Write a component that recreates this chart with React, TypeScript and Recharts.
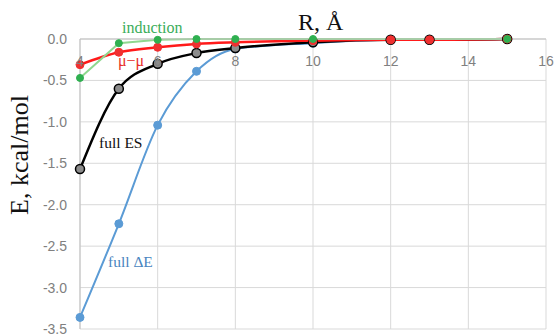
import React from "react";
import { LineChart, Line, XAxis, YAxis, CartesianGrid, Customized } from "recharts";

const rValues = [4, 5, 6, 7, 8, 10, 12, 13, 15];
const fullDE = [-3.36, -2.23, -1.04, -0.39, -0.12, -0.05, -0.01, -0.01, 0];
const fullES = [-1.57, -0.6, -0.3, -0.17, -0.11, -0.04, -0.01, -0.01, 0];
const muMu = [-0.31, -0.16, -0.1, -0.06, -0.04, -0.02, -0.01, -0.01, 0];
const inductionR = [4, 5, 6, 7, 8, 10, 15];
const induction = [-0.47, -0.05, -0.01, 0, 0, 0, 0];

const xTicks = [4, 6, 8, 10, 12, 14, 16];
const yTicks = [0, -0.5, -1, -1.5, -2, -2.5, -3, -3.5];

const toPts = (xs: number[], ys: number[]) => xs.map((x, i) => ({ x, y: ys[i] }));
const deData = toPts(rValues, fullDE);
const esData = toPts(rValues, fullES);
const muData = toPts(rValues, muMu);
const indData = toPts(inductionR, induction);

const tickFont = "Liberation Sans, Arial, sans-serif";
const serif = "Liberation Serif, Times New Roman, serif";

const renderXTick = (props: any) => (
  <text x={props.x} y={66} textAnchor="middle" fill="#808080" fontSize={14} fontFamily={tickFont}>
    {props.payload.value}
  </text>
);

const Labels = () => (
  <g>
    <text x={122} y={33} fontSize={16} fill="#3aad5a" fontFamily={serif} style={{ fontFamily: serif }}>induction</text>
    <text x={118} y={66} fontSize={16} fill="#e8302a" fontFamily={serif} style={{ fontFamily: serif }}>μ−μ</text>
    <text x={99} y={148} fontSize={15.5} fill="#111" fontFamily={serif} style={{ fontFamily: serif }}>full ES</text>
    <text x={108} y={267} fontSize={15.5} fill="#4a86c0" fontFamily={serif} style={{ fontFamily: serif }}>full ΔE</text>
    <text x={298} y={30} fontSize={24} fill="#111" fontFamily={serif} style={{ fontFamily: serif }}>R, Å</text>
    <text x={28} y={155} fontSize={26} fill="#111" textAnchor="middle" fontFamily={serif} style={{ fontFamily: serif }} transform="rotate(-90 28 155)">E, kcal/mol</text>
  </g>
);

export default function App() {
  return (
    <div style={{ position: "absolute", left: 0, top: 0, background: "#fff" }}>
      <LineChart width={557} height={335} margin={{ top: 19, right: 11, bottom: 6, left: 0 }}>
        <CartesianGrid stroke="#d9d9d9" strokeWidth={1} />
        <XAxis
          type="number"
          dataKey="x"
          orientation="top"
          height={20}
          domain={[4, 16]}
          ticks={xTicks}
          axisLine={{ stroke: "#c0c0c0" }}
          tickLine={false}
          tick={renderXTick}
          interval={0}
        />
        <YAxis
          type="number"
          dataKey="y"
          domain={[-3.5, 0]}
          ticks={yTicks}
          width={80}
          axisLine={{ stroke: "#c0c0c0" }}
          tickLine={false}
          tickSize={0}
          tickMargin={13}
          tickFormatter={(v: number) => v.toFixed(1)}
          tick={{ fill: "#808080", fontSize: 14, fontFamily: tickFont }}
          interval={0}
        />
        <Line
          data={deData}
          dataKey="y"
          type="monotone"
          stroke="#5b9bd5"
          strokeWidth={2}
          dot={{ r: 4, fill: "#5b9bd5", stroke: "#5b9bd5", strokeWidth: 1 }}
          isAnimationActive={false}
        />
        <Line
          data={esData}
          dataKey="y"
          type="monotone"
          stroke="#000"
          strokeWidth={2.5}
          dot={{ r: 4.5, fill: "#8c8c8c", stroke: "#000", strokeWidth: 1.5 }}
          isAnimationActive={false}
        />
        <Line
          data={muData}
          dataKey="y"
          type="monotone"
          stroke="#ff1a1a"
          strokeWidth={2.5}
          dot={{ r: 4, fill: "#f03030", stroke: "#f03030", strokeWidth: 1 }}
          isAnimationActive={false}
        />
        <Line
          data={indData}
          dataKey="y"
          type="linear"
          stroke="#8fd88f"
          strokeWidth={2}
          dot={{ r: 3.5, fill: "#2fb050", stroke: "#2fb050", strokeWidth: 1 }}
          isAnimationActive={false}
        />
        <Customized component={Labels} />
      </LineChart>
    </div>
  );
}
